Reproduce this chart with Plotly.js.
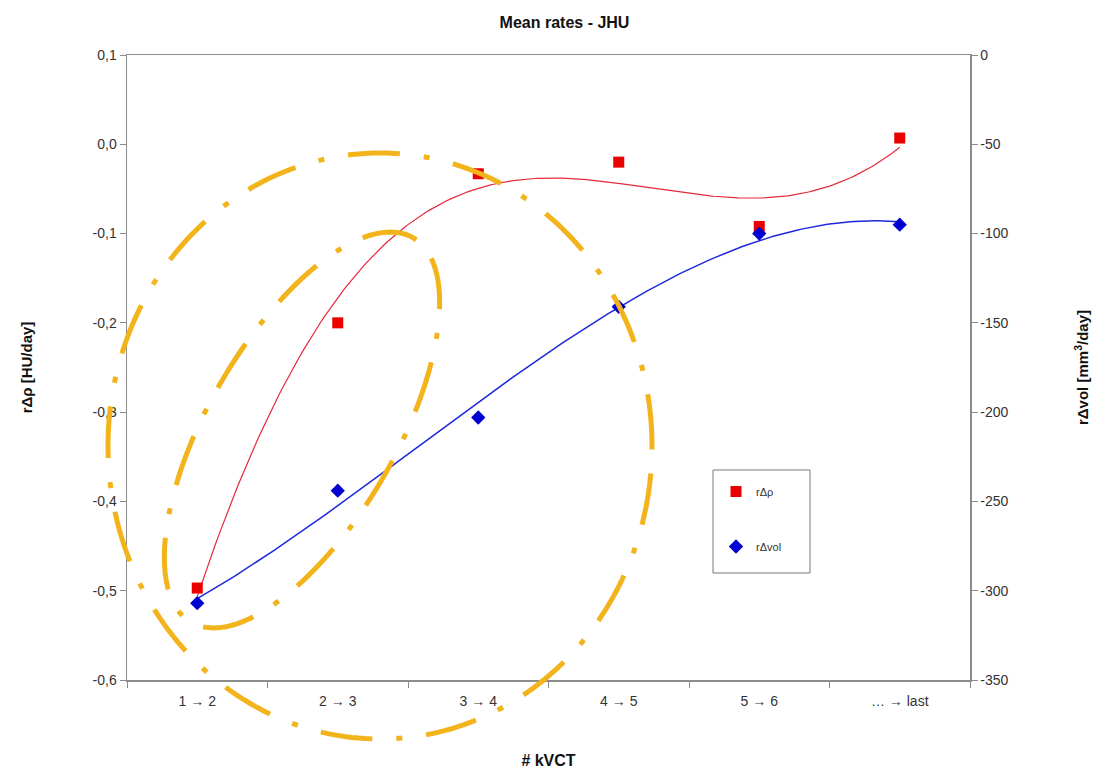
<!DOCTYPE html>
<html>
<head>
<meta charset="utf-8">
<script src="https://cdn.plot.ly/plotly-3.0.1.min.js"></script>
<style>html,body{margin:0;padding:0;background:#fff;}#chart{width:1099px;height:774px;}</style>
</head>
<body>
<div id="chart"></div>
<script>
// ---- data ----
const categories = ["1 \u2192 2", "2 \u2192 3", "3 \u2192 4", "4 \u2192 5", "5 \u2192 6", "\u2026 \u2192 last"];
const catIndex = [1, 2, 3, 4, 5, 6];
const rDeltaRho = [-0.497, -0.200, -0.033, -0.020, -0.092, 0.007];
const rDeltaVol = [-307, -244, -203, -141, -100, -95];
const leftTickVals = [0.1, 0.0, -0.1, -0.2, -0.3, -0.4, -0.5, -0.6];
const leftTickText = ["0,1", "0,0", "-0,1", "-0,2", "-0,3", "-0,4", "-0,5", "-0,6"];
const rightTickVals = [0, -50, -100, -150, -200, -250, -300, -350];
const rightTickText = ["0", "-50", "-100", "-150", "-200", "-250", "-300", "-350"];

// polynomial least-squares trendline (Excel-style)
function polyFit(xs, ys, deg) {
  const n = deg + 1;
  const A = [];
  for (let i = 0; i < n; i++) {
    A.push(new Array(n + 1).fill(0));
    for (let j = 0; j < n; j++) {
      let s = 0;
      for (let k = 0; k < xs.length; k++) s += Math.pow(xs[k], i + j);
      A[i][j] = s;
    }
    let t = 0;
    for (let k = 0; k < xs.length; k++) t += ys[k] * Math.pow(xs[k], i);
    A[i][n] = t;
  }
  for (let c = 0; c < n; c++) {
    let p = c;
    for (let r = c + 1; r < n; r++) if (Math.abs(A[r][c]) > Math.abs(A[p][c])) p = r;
    [A[c], A[p]] = [A[p], A[c]];
    for (let r = 0; r < n; r++) {
      if (r === c) continue;
      const f = A[r][c] / A[c][c];
      for (let k = c; k <= n; k++) A[r][k] -= f * A[c][k];
    }
  }
  return A.map((row, i) => row[n] / row[i]);
}
function polyCurve(coef, x0, x1, steps) {
  const xs = [], ys = [];
  for (let i = 0; i <= steps; i++) {
    const x = x0 + (x1 - x0) * i / steps;
    let y = 0;
    for (let k = 0; k < coef.length; k++) y += coef[k] * Math.pow(x, k);
    xs.push(x); ys.push(y);
  }
  return {xs, ys};
}
const redFit = polyCurve(polyFit(catIndex, rDeltaRho, 3), 1, 6, 200);
const blueFit = polyCurve(polyFit(catIndex, rDeltaVol, 3), 1, 6, 200);

// ---- layout geometry ----
const W = 1099, H = 774;
const M = {l: 127, r: 129, t: 55, b: 94};
const PW = W - M.l - M.r, PH = H - M.t - M.b;
function toPaper(px, py) { return [(px - M.l) / PW, (H - M.b - py) / PH]; }
function ellipsePath(cx, cy, a, b, deg) {
  const th = deg * Math.PI / 180;
  let d = "";
  const N = 240;
  for (let i = 0; i <= N; i++) {
    const t = 2 * Math.PI * i / N;
    const ex = a * Math.cos(t), ey = b * Math.sin(t);
    const px = cx + ex * Math.cos(th) - ey * Math.sin(th);
    const py = cy - (ex * Math.sin(th) + ey * Math.cos(th));
    const [u, v] = toPaper(px, py);
    d += (i === 0 ? "M" : "L") + u.toFixed(5) + "," + v.toFixed(5);
  }
  return d + "Z";
}
const ellipseColor = "rgb(242,180,26)";
const ellipseDash = "52px,24px,6px,24px";

const FONT = "Liberation Sans, Arial, sans-serif";
const axisGrey = "rgb(140,140,140)";

const traces = [
  {x: redFit.xs, y: redFit.ys, mode: "lines", line: {color: "rgb(230,40,60)", width: 1.2}, showlegend: false, hoverinfo: "skip", xaxis: "x", yaxis: "y"},
  {x: blueFit.xs, y: blueFit.ys, mode: "lines", line: {color: "rgb(30,40,220)", width: 1.5}, showlegend: false, hoverinfo: "skip", xaxis: "x", yaxis: "y2"},
  {x: catIndex, y: rDeltaRho, name: "r\u0394\u03c1", mode: "markers", marker: {symbol: "square", size: 11, color: "rgb(235,0,0)"}, xaxis: "x", yaxis: "y", legendgroup: "a"},
  {x: catIndex, y: rDeltaVol, name: "r\u0394vol", mode: "markers", marker: {symbol: "diamond", size: 11, color: "rgb(0,0,210)"}, xaxis: "x", yaxis: "y2", legendgroup: "b"}
];

const lg0 = toPaper(713, 470), lg1 = toPaper(810, 573);

const layout = {
  width: W, height: H,
  margin: M,
  paper_bgcolor: "#fff", plot_bgcolor: "#fff",
  font: {family: FONT, color: "#333", size: 14},
  title: {text: "Mean rates - JHU", font: {family: FONT, size: 16, color: "#111", weight: "bold"}, x: 0.519, xanchor: "center", xref: "paper", y: 1 - 22 / H, yanchor: "middle", yref: "container"},
  xaxis: {
    range: [0.5, 6.5], tickvals: catIndex, ticktext: categories, ticks: "", showgrid: false, zeroline: false,
    showline: true, linecolor: axisGrey, linewidth: 1.5, mirror: true,
    tickfont: {size: 14, color: "#333"}, ticklabelstandoff: 8,
    minor: {tick0: 0.5, dtick: 1, ticks: "outside", ticklen: 6, tickcolor: axisGrey, tickwidth: 1, showgrid: false},
    title: {text: "# kVCT", font: {size: 16, color: "#111", family: FONT, weight: "bold"}, standoff: 46}
  },
  yaxis: {
    range: [-0.6, 0.1], tickvals: leftTickVals, ticktext: leftTickText, ticks: "outside", ticklen: 6, tickcolor: axisGrey,
    showgrid: false, zeroline: false, showline: true, linecolor: axisGrey, linewidth: 1.5,
    tickfont: {size: 14, color: "#333"},
    title: {text: "r\u0394\u03c1 [HU/day]", font: {size: 15, color: "#111", family: FONT, weight: "bold"}, standoff: 56}
  },
  yaxis2: {
    range: [-350, 0], tickvals: rightTickVals, ticktext: rightTickText, overlaying: "y", side: "right", ticks: "outside", ticklen: 6, tickcolor: axisGrey,
    showgrid: false, zeroline: false, showline: true, linecolor: axisGrey, linewidth: 1.5,
    tickfont: {size: 14, color: "#333"},
    title: {text: "r\u0394vol [mm<sup>3</sup>/day]", font: {size: 15, color: "#111", family: FONT, weight: "bold"}, standoff: 70}
  },
  legend: {
    x: (716 - M.l) / PW, y: (H - M.b - 477) / PH, xanchor: "left", yanchor: "top",
    borderwidth: 0, bgcolor: "rgba(255,255,255,0)",
    font: {size: 11, color: "#333", family: FONT}, tracegroupgap: 36, traceorder: "grouped"
  },
  shapes: [
    {type: "rect", xref: "paper", yref: "paper", x0: lg0[0], y0: lg0[1], x1: lg1[0], y1: lg1[1], line: {color: "rgb(120,120,120)", width: 1}, fillcolor: "rgba(255,255,255,1)", layer: "below"},
    {type: "path", xref: "paper", yref: "paper", path: ellipsePath(380, 446, 272, 293, 0), line: {color: ellipseColor, width: 5, dash: ellipseDash}},
    {type: "path", xref: "paper", yref: "paper", path: ellipsePath(302, 430, 222, 94, 60), line: {color: ellipseColor, width: 5, dash: ellipseDash}}
  ],
  showlegend: true
};

Plotly.newPlot("chart", traces, layout, {displayModeBar: false, staticPlot: true});
</script>
</body>
</html>
